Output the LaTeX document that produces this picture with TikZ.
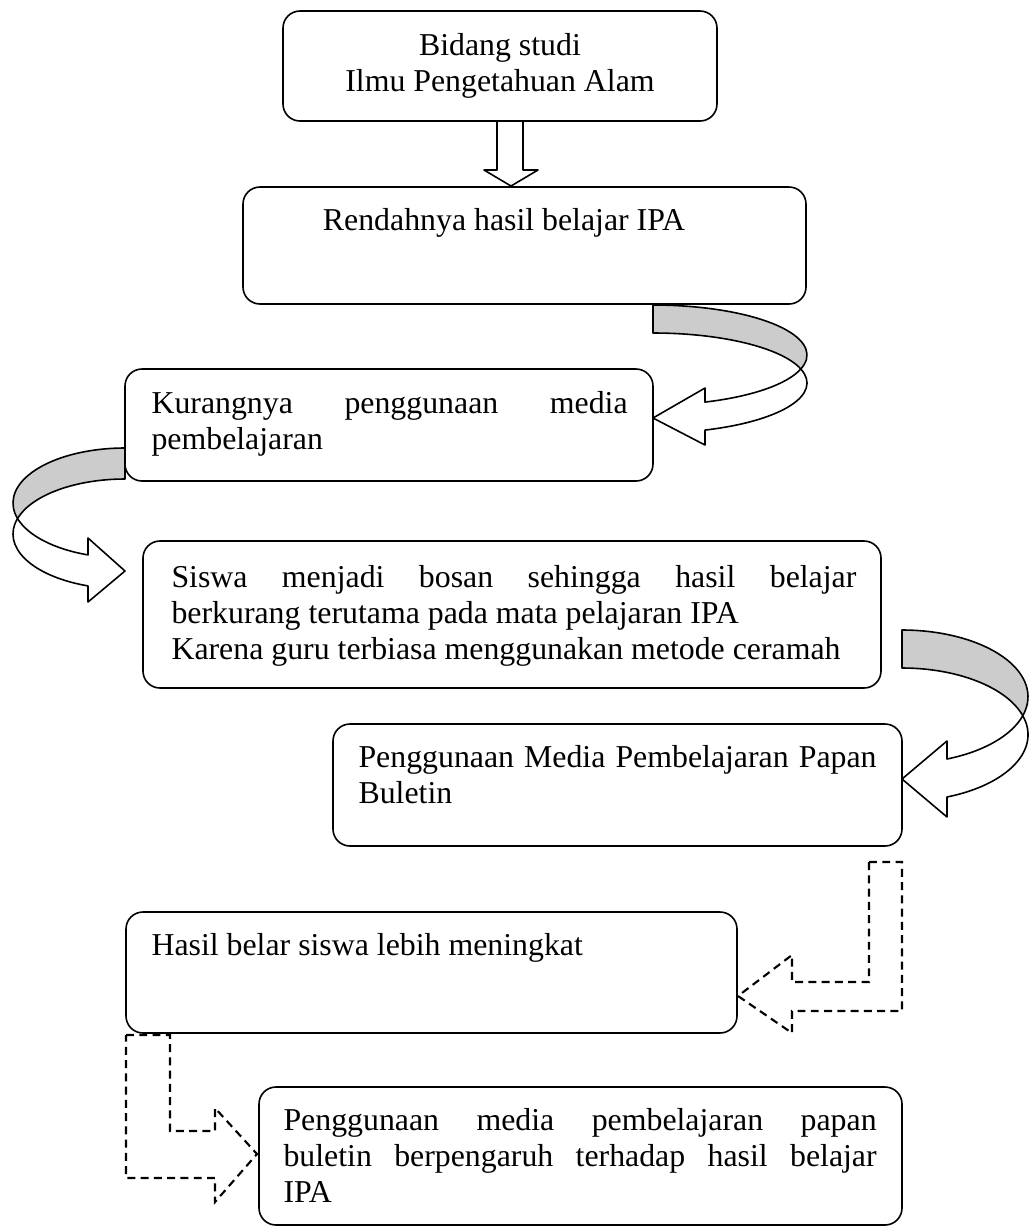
\documentclass[tikz,border=0pt]{standalone}
\usepackage{fontspec}
\setmainfont{Liberation Serif}
\usetikzlibrary{fit}
\newcommand\boxfont{\fontsize{12}{13.57}\selectfont}
\begin{document}
\begin{tikzpicture}[x=0.377pt,y=0.377pt,
  box/.style={draw,line width=0.6pt,rounded corners=6.4pt,inner sep=0pt},
  band/.style={draw,line width=0.6pt,line join=round},
  dasharrow/.style={draw,line width=0.8pt,dash pattern=on 3pt off 2pt},
  lbl/.style={inner sep=0pt,font=\boxfont}]
\useasboundingbox (0,0) rectangle (1029,-1228);

% boxes
\node[box,fit={(283,-11)(717,-121)}] (b1) {};
\node[box,fit={(243,-187)(806,-304)}] (b2) {};
\node[box,fit={(125,-369)(653,-481)}] (b3) {};
\node[box,fit={(143,-541)(881,-688)}] (b4) {};
\node[box,fit={(333,-724)(902,-846)}] (b5) {};
\node[box,fit={(126,-912)(737,-1033)}] (b6) {};
\node[box,fit={(259,-1087)(902,-1225)}] (b7) {};

% texts
\node[lbl,anchor=base] (t1) at (500,-55) {\parbox[t]{250pt}{\centering\boxfont Bidang studi\\Ilmu Pengetahuan Alam}};
\node[lbl,anchor=base] (t2) at (504,-230) {Rendahnya hasil belajar IPA};
\node[lbl,anchor=base west] (t3) at (151,-413) {\parbox[t]{179.5pt}{\boxfont\makebox[\linewidth][s]{Kurangnya penggunaan media}\\pembelajaran}};
\node[lbl,anchor=base west] (t4) at (171,-587) {\parbox[t]{258.2pt}{\boxfont\makebox[\linewidth][s]{Siswa menjadi bosan sehingga hasil belajar}\\berkurang terutama pada mata pelajaran IPA\\Karena guru terbiasa menggunakan metode ceramah}};
\node[lbl,anchor=base west] (t5) at (358,-767) {\parbox[t]{195.3pt}{\boxfont\makebox[\linewidth][s]{Penggunaan Media Pembelajaran Papan}\\Buletin}};
\node[lbl,anchor=base west] (t6) at (151,-955) {Hasil belar siswa lebih meningkat};
\node[lbl,anchor=base west] (t7) at (283,-1130) {\parbox[t]{223.6pt}{\boxfont\makebox[\linewidth][s]{Penggunaan media pembelajaran papan}\\\makebox[\linewidth][s]{buletin berpengaruh terhadap hasil belajar}\\IPA}};

% down block arrow
\draw[band,fill=white] (497,-121) -- (497,-170) -- (484,-170) -- (511,-186) -- (538,-170) -- (523,-170) -- (523,-121) -- cycle;

% curved arrow 1 (b2 -> b3)
\draw[band,fill=black!20] (653,-305) arc[start angle=90,end angle=-16.26,x radius=154,y radius=50]
  arc[start angle=16.26,end angle=90,x radius=154,y radius=50] -- cycle;
\draw[band,fill=white] (800.84,-369) arc[start angle=16.26,end angle=-70.26,x radius=154,y radius=50]
  -- (705,-445) -- (653,-418) -- (705,-388) -- (705,-402.07)
  arc[start angle=-70.26,end angle=-16.26,x radius=154,y radius=50] -- cycle;

% curved arrow 2 (b3 -> b4)
\draw[band,fill=black!20] (125,-448) arc[start angle=90,end angle=196.37,x radius=112,y radius=55]
  arc[start angle=163.63,end angle=90,x radius=112,y radius=55] -- cycle;
\draw[band,fill=white] (17.54,-518.5) arc[start angle=163.63,end angle=250.71,x radius=112,y radius=55]
  -- (88,-602) -- (125,-571) -- (88,-538) -- (88,-554.9)
  arc[start angle=250.71,end angle=196.37,x radius=112,y radius=55] -- cycle;

% curved arrow 3 (b4 -> b5)
\draw[band,fill=black!20] (902,-630) arc[start angle=90,end angle=-16.55,x radius=126,y radius=66.7]
  arc[start angle=16.55,end angle=90,x radius=126,y radius=66.7] -- cycle;
\draw[band,fill=white] (1022.8,-715.7) arc[start angle=16.55,end angle=-69.08,x radius=126,y radius=66.7]
  -- (947,-817) -- (902,-779) -- (947,-741) -- (947,-759.0)
  arc[start angle=-69.08,end angle=-16.55,x radius=126,y radius=66.7] -- cycle;

% dashed bent arrow (b5 -> b6)
\draw[dasharrow] (869,-862) -- (902,-862) -- (902,-1011) -- (792,-1011) -- (792,-1033) -- (738,-996)
  -- (792,-955) -- (792,-982) -- (869,-982) -- cycle;

% dashed bent arrow (b6 -> b7)
\draw[dasharrow] (126,-1035) -- (170,-1035) -- (170,-1131) -- (215,-1131) -- (215,-1108) -- (257,-1154)
  -- (215,-1202) -- (215,-1178) -- (126,-1178) -- cycle;
\end{tikzpicture}
\end{document}
